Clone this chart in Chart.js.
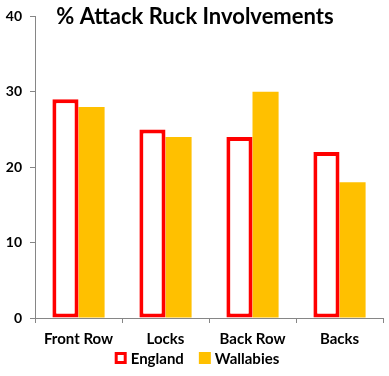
<!DOCTYPE html>
<html lang="en">
<head>
<meta charset="UTF-8">
<title>% Attack Ruck Involvements</title>
<style>
  html, body { margin: 0; padding: 0; background: #fff; }
  #wrap { width: 389px; height: 376px; }
</style>
</head>
<body>
<div id="wrap"><canvas id="ruckChart" width="389" height="376"></canvas></div>
<script src="https://cdn.jsdelivr.net/npm/chart.js"></script>
<script>
const categories = ['Front Row', 'Locks', 'Back Row', 'Backs'];
const england = [29, 25, 24, 22];
const wallabies = [28, 24, 30, 18];
const yTicks = [0, 10, 20, 30, 40];

const FONT = 'Lato, "Open Sans", sans-serif';
const AXIS_GREY = '#868686';

// title sits over the plot area like in the original, so draw it by hand
const titlePlugin = {
  id: 'overlayTitle',
  afterDraw(chart) {
    const ctx = chart.ctx;
    ctx.save();
    ctx.font = 'bold 22px ' + FONT;
    ctx.fillStyle = '#000';
    ctx.textAlign = 'center';
    ctx.textBaseline = 'middle';
    ctx.fillText('% Attack Ruck Involvements', 195, 17);
    ctx.restore();
  }
};

// compact legend under the axis labels (built-in one spaces items too far apart)
const legendPlugin = {
  id: 'tightLegend',
  afterDraw(chart) {
    const ctx = chart.ctx;
    const box = 12, gapText = 4, gapItem = 15, y = 358;
    ctx.save();
    ctx.font = 'bold 15px ' + FONT;
    ctx.textBaseline = 'middle';
    const items = chart.data.datasets.map(ds => ({ ds, w: ctx.measureText(ds.label).width }));
    const total = items.reduce((s, it) => s + box + gapText + it.w, 0) + gapItem * (items.length - 1);
    let x = 197 - total / 2;
    items.forEach(it => {
      const ds = it.ds;
      if (ds.borderWidth) {
        ctx.fillStyle = ds.borderColor;
        ctx.fillRect(x, y - box / 2, box, box);
        ctx.fillStyle = ds.backgroundColor;
        ctx.fillRect(x + 3, y - box / 2 + 3, box - 6, box - 6);
      } else {
        ctx.fillStyle = ds.backgroundColor;
        ctx.fillRect(x, y - box / 2, box, box);
      }
      x += box + gapText;
      ctx.fillStyle = '#000';
      ctx.fillText(ds.label, x, y + 1);
      x += it.w + gapItem;
    });
    ctx.restore();
  }
};

new Chart(document.getElementById('ruckChart'), {
  type: 'bar',
  data: {
    labels: categories,
    datasets: [
      {
        label: 'England',
        data: england,
        backgroundColor: '#ffffff',
        borderColor: '#ff0000',
        borderWidth: 4,
        borderSkipped: false
      },
      {
        label: 'Wallabies',
        data: wallabies,
        backgroundColor: '#ffc000',
        borderWidth: 0
      }
    ]
  },
  options: {
    responsive: false,
    animation: false,
    devicePixelRatio: 1,
    layout: { padding: { top: 12, right: 6, left: 0, bottom: 28 } },
    datasets: { bar: { categoryPercentage: 0.6, barPercentage: 1.0 } },
    plugins: {
      title: { display: false },
      tooltip: { enabled: false },
      legend: { display: false }
    },
    scales: {
      x: {
        afterFit(axis) { axis.height = 30; },
        grid: { display: true, drawOnChartArea: false, drawTicks: true, tickLength: 5, color: AXIS_GREY, offset: true },
        border: { display: true, color: AXIS_GREY, width: 1 },
        ticks: { color: '#000', padding: 7, font: { family: FONT, size: 15, weight: 'bold' } }
      },
      y: {
        min: 0,
        max: 40,
        afterBuildTicks(axis) { axis.ticks = yTicks.map(v => ({ value: v })); },
        afterFit(axis) { axis.width = 35; },
        grid: { display: true, drawOnChartArea: false, drawTicks: true, tickLength: 5, color: AXIS_GREY },
        border: { display: true, color: AXIS_GREY, width: 1 },
        ticks: { color: '#000', padding: 8, font: { family: FONT, size: 14, weight: 'bold' } }
      }
    }
  },
  plugins: [titlePlugin, legendPlugin]
});
</script>
</body>
</html>
